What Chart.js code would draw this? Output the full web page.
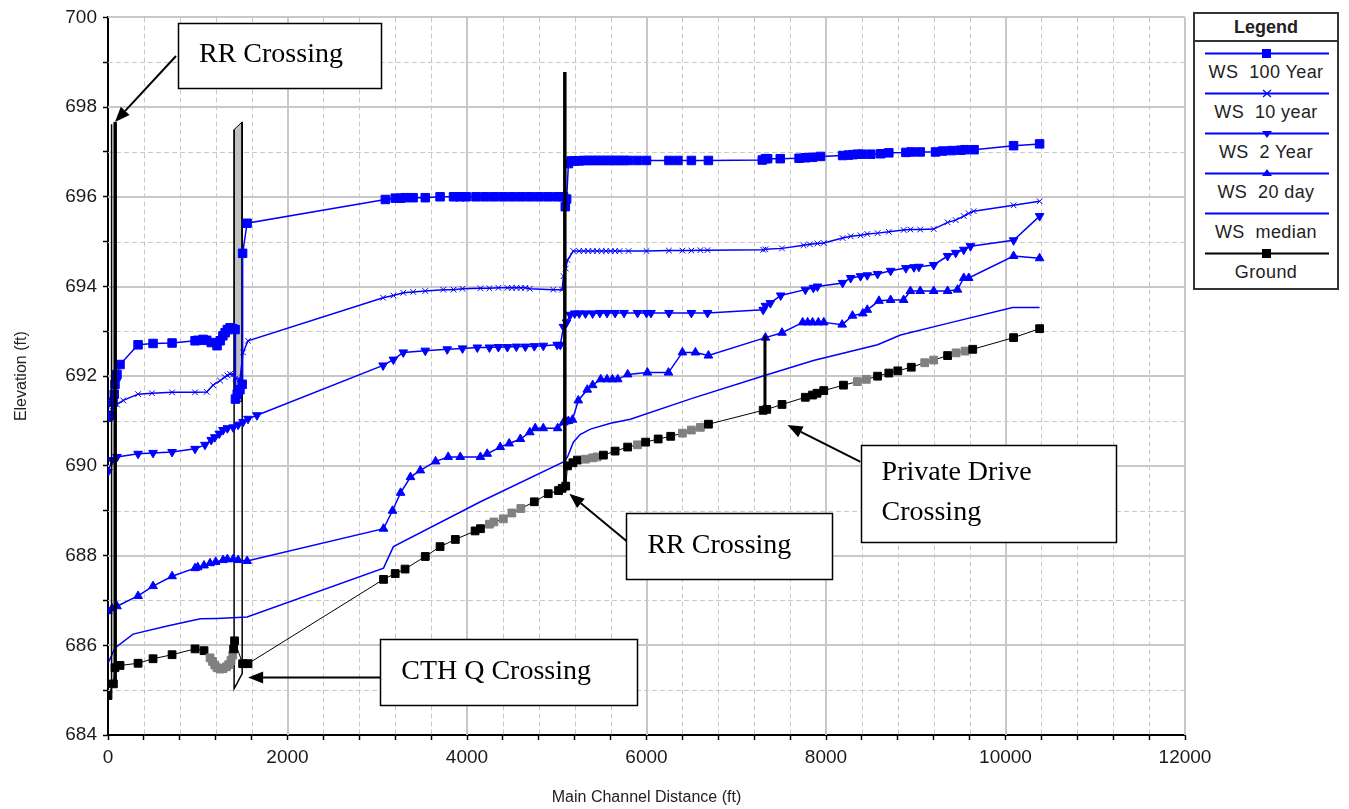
<!DOCTYPE html>
<html>
<head>
<meta charset="utf-8">
<title>Water surface profiles</title>
<script src="https://cdn.jsdelivr.net/npm/chart.js@4.4.1/dist/chart.umd.min.js"></script>
<style>
    html, body { margin: 0; padding: 0; background: #fff; }
    #wrap { position: relative; width: 1349px; height: 809px; }
    #legend {
        position: absolute; left: 1193px; top: 12px; width: 142px; height: 274px;
        border: 2px solid #333; background: #fff;
        font-family: 'Liberation Sans', Arial, sans-serif; color: #222;
    }
    #legend .lg-title {
        height: 26px; line-height: 26px; text-align: center; font-weight: bold; font-size: 18px;
        border-bottom: 2px solid #333;
    }
    #legend .lg-line { position: absolute; left: 10px; }
    #legend .lg-label {
        position: absolute; left: 0; width: 142px; text-align: center; font-size: 18px;
        letter-spacing: 0.4px; line-height: 20px; white-space: pre;
    }
</style>
</head>
<body>
<div id="wrap">
    <canvas id="profileChart"></canvas>
    <div id="legend"><div class="lg-title">Legend</div></div>
</div>
<script>
// Profile data: [main channel distance (ft), elevation (ft)]
const ws100 = [
    [0, 691.09], [45, 691.13], [56, 691.42], [70, 691.6], [78, 691.82], [90, 692.0], [100, 692.04],
    [134, 692.26], [335, 692.7], [502, 692.73], [714, 692.74], [970, 692.79], [1000, 692.8],
    [1060, 692.82], [1100, 692.8], [1150, 692.75], [1215, 692.68], [1250, 692.79], [1280, 692.9],
    [1305, 692.97], [1330, 693.04], [1360, 693.08], [1390, 693.06], [1416, 693.04], [1420, 691.49],
    [1440, 691.6], [1470, 691.7], [1495, 691.82], [1500, 694.74], [1550, 695.41], [3090, 695.94],
    [3200, 695.97], [3260, 695.97], [3310, 695.98], [3400, 695.98], [3535, 695.98], [3700, 696.0],
    [3850, 696.0], [3920, 696.0], [3990, 696.0], [4100, 696.0], [4200, 696.0], [4300, 696.0],
    [4400, 696.0], [4500, 696.0], [4600, 696.0], [4700, 696.0], [4800, 696.0], [4900, 696.0],
    [5000, 696.0], [5075, 696.0], [5095, 695.78], [5110, 695.95], [5130, 696.74], [5160, 696.8],
    [5200, 696.8], [5250, 696.8], [5300, 696.81], [5350, 696.81], [5400, 696.81], [5450, 696.81],
    [5500, 696.81], [5550, 696.81], [5600, 696.81], [5650, 696.81], [5700, 696.81], [5750, 696.81],
    [5800, 696.81], [5900, 696.81], [6000, 696.81], [6250, 696.81], [6350, 696.81], [6500, 696.81],
    [6690, 696.81], [7290, 696.82], [7325, 696.85], [7350, 696.85], [7490, 696.85], [7700, 696.86],
    [7770, 696.87], [7850, 696.88], [7940, 696.9], [8185, 696.92], [8250, 696.93], [8300, 696.94],
    [8350, 696.95], [8400, 696.95], [8500, 696.95], [8610, 696.96], [8700, 696.98], [8890, 696.99],
    [8950, 697.0], [9050, 697.0], [9220, 697.0], [9300, 697.02], [9400, 697.03], [9500, 697.04],
    [9550, 697.05], [9650, 697.05], [10090, 697.14], [10380, 697.18]
];

const ws10 = [
    [0, 691.04], [45, 691.24], [100, 691.37], [170, 691.46], [335, 691.6], [490, 691.62], [714, 691.64],
    [970, 691.64], [1100, 691.65], [1170, 691.8], [1250, 691.9], [1300, 691.98], [1330, 692.02],
    [1360, 692.05], [1395, 692.04], [1420, 691.95], [1470, 691.93], [1505, 692.53], [1560, 692.79],
    [3065, 693.75], [3180, 693.8], [3290, 693.86], [3400, 693.88], [3535, 693.9], [3735, 693.93],
    [3850, 693.93], [3950, 693.95], [4150, 693.96], [4250, 693.96], [4350, 693.97], [4450, 693.97],
    [4500, 693.97], [4550, 693.97], [4600, 693.97], [4650, 693.97], [4700, 693.95], [4960, 693.93],
    [5060, 693.93], [5075, 694.23], [5100, 694.4], [5120, 694.59], [5185, 694.79], [5250, 694.79],
    [5300, 694.79], [5350, 694.79], [5400, 694.79], [5450, 694.79], [5500, 694.79], [5550, 694.79],
    [5600, 694.79], [5650, 694.79], [5700, 694.79], [5800, 694.79], [6000, 694.79], [6250, 694.8],
    [6400, 694.8], [6500, 694.8], [6600, 694.81], [6680, 694.81], [7300, 694.82], [7325, 694.83],
    [7510, 694.85], [7750, 694.92], [7820, 694.94], [7905, 694.96], [7975, 694.97], [8185, 695.08],
    [8275, 695.12], [8385, 695.14], [8460, 695.17], [8575, 695.19], [8700, 695.22], [8865, 695.26],
    [8940, 695.27], [9050, 695.27], [9200, 695.28], [9355, 695.43], [9445, 695.48], [9535, 695.57],
    [9590, 695.63], [9645, 695.68], [10090, 695.81], [10380, 695.9]
];

const ws2 = [
    [0, 689.87], [45, 690.13], [100, 690.2], [335, 690.27], [502, 690.29], [714, 690.31], [970, 690.38],
    [1080, 690.47], [1150, 690.58], [1190, 690.64], [1240, 690.72], [1282, 690.8], [1330, 690.84],
    [1395, 690.86], [1450, 690.92], [1505, 690.98], [1560, 691.05], [1660, 691.13], [3065, 692.24],
    [3180, 692.37], [3290, 692.53], [3535, 692.57], [3780, 692.6], [3950, 692.62], [4115, 692.64],
    [4250, 692.64], [4350, 692.65], [4450, 692.65], [4550, 692.66], [4650, 692.66], [4750, 692.67],
    [4850, 692.68], [5005, 692.7], [5040, 692.7], [5075, 693.1], [5110, 693.2], [5150, 693.37],
    [5200, 693.4], [5250, 693.4], [5320, 693.4], [5400, 693.4], [5480, 693.41], [5560, 693.41],
    [5650, 693.41], [5750, 693.41], [5900, 693.41], [6000, 693.41], [6050, 693.41], [6250, 693.41],
    [6500, 693.41], [6680, 693.41], [7300, 693.48], [7325, 693.57], [7380, 693.63], [7495, 693.8],
    [7770, 693.93], [7860, 693.97], [7905, 694.0], [8185, 694.08], [8275, 694.19], [8385, 694.23],
    [8460, 694.25], [8575, 694.28], [8720, 694.35], [8890, 694.41], [8980, 694.43], [9035, 694.44],
    [9200, 694.48], [9355, 694.68], [9445, 694.75], [9535, 694.82], [9610, 694.9], [10090, 695.03],
    [10380, 695.57]
];

const ws20day = [
    [0, 686.76], [45, 686.82], [100, 686.87], [335, 687.1], [502, 687.32], [714, 687.54], [970, 687.72],
    [1000, 687.74], [1070, 687.78], [1137, 687.83], [1200, 687.86], [1282, 687.9], [1330, 687.92],
    [1395, 687.92], [1450, 687.9], [1550, 687.88], [3070, 688.6], [3170, 689.0], [3260, 689.4],
    [3370, 689.75], [3480, 689.9], [3650, 690.1], [3790, 690.2], [3925, 690.2], [4150, 690.2],
    [4225, 690.27], [4370, 690.42], [4470, 690.5], [4595, 690.6], [4700, 690.75], [4760, 690.84],
    [4850, 690.84], [5010, 690.84], [5075, 690.97], [5100, 690.99], [5130, 691.0], [5175, 691.03],
    [5240, 691.46], [5340, 691.7], [5400, 691.8], [5490, 691.93], [5560, 691.93], [5620, 691.93],
    [5680, 691.93], [5790, 692.04], [6010, 692.08], [6245, 692.08], [6400, 692.53], [6545, 692.53],
    [6690, 692.46], [7325, 692.86], [7510, 692.97], [7740, 693.2], [7795, 693.2], [7850, 693.2],
    [7915, 693.2], [7975, 693.2], [8180, 693.15], [8295, 693.35], [8410, 693.4], [8460, 693.48],
    [8590, 693.68], [8720, 693.7], [8865, 693.7], [8940, 693.9], [9050, 693.9], [9200, 693.9],
    [9355, 693.9], [9465, 693.93], [9535, 694.19], [9590, 694.19], [10090, 694.68], [10380, 694.63]
];

const wsMedian = [
    [0, 685.6], [78, 685.94], [280, 686.25], [660, 686.43], [1030, 686.59], [1215, 686.6],
    [1550, 686.63], [3070, 687.72], [3180, 688.2], [4150, 689.2], [5075, 690.09], [5120, 690.2],
    [5185, 690.53], [5260, 690.7], [5375, 690.82], [5600, 690.95], [5820, 691.04], [6500, 691.5],
    [7325, 692.02], [7860, 692.35], [8575, 692.7], [8830, 692.92], [9400, 693.2], [10080, 693.53],
    [10380, 693.53]
];

const ground = [
    [0, 684.88], [60, 685.14], [78, 685.5], [134, 685.55], [335, 685.6], [502, 685.7], [714, 685.79],
    [970, 685.92], [1070, 685.88], [1137, 685.72], [1165, 685.64], [1190, 685.56], [1215, 685.5],
    [1250, 685.47], [1282, 685.48], [1320, 685.52], [1345, 685.57], [1370, 685.66], [1390, 685.78],
    [1400, 685.92], [1410, 686.1], [1500, 685.59], [1560, 685.59], [3070, 687.47], [3200, 687.6],
    [3310, 687.7], [3535, 687.98], [3700, 688.2], [3870, 688.36], [4090, 688.55], [4150, 688.6],
    [4250, 688.7], [4300, 688.75], [4405, 688.82], [4500, 688.95], [4600, 689.05], [4750, 689.2],
    [4905, 689.38], [5020, 689.45], [5060, 689.5], [5100, 689.55], [5120, 690.0], [5180, 690.07],
    [5230, 690.13], [5320, 690.15], [5400, 690.18], [5450, 690.2], [5520, 690.24], [5650, 690.33],
    [5790, 690.42], [5900, 690.47], [5990, 690.53], [6130, 690.6], [6270, 690.66], [6400, 690.73],
    [6500, 690.8], [6600, 690.86], [6690, 690.93], [7300, 691.24], [7340, 691.26], [7510, 691.37],
    [7770, 691.53], [7850, 691.58], [7900, 691.62], [7975, 691.68], [8195, 691.8], [8350, 691.88],
    [8450, 691.93], [8575, 692.0], [8700, 692.07], [8800, 692.12], [8950, 692.2], [9100, 692.3],
    [9200, 692.36], [9355, 692.46], [9450, 692.52], [9550, 692.56], [9635, 692.6], [10090, 692.86],
    [10380, 693.06]
];

// Interpolated cross sections (drawn grey)
const interpolatedStations = [
    1137, 1165, 1190, 1215, 1250, 1282, 1320, 1345, 1370, 1390, 4250, 4300, 4405, 4500, 4600,
    5320, 5400, 5450, 5900, 6400, 6500, 6600, 8350, 8450, 9100, 9200, 9450, 9550
];

// Crossing structures
const rrBridgeUpA = [[40, 684.95], [40, 697.62]];
const rrBridgeUpB = [[80, 685.2], [80, 697.67]];
const cthqDeck = [[1405, 697.5], [1495, 697.67], [1495, 691.45], [1405, 691.4], [1405, 697.5]];
const cthqOutline = [[1405, 697.5], [1405, 685.03], [1495, 685.37], [1495, 697.67]];
const rrBridgeDown = [[5090, 689.55], [5090, 698.78]];
const privateDrive = [[7320, 691.26], [7320, 692.9]];

const xTicksMajor = [0, 2000, 4000, 6000, 8000, 10000, 12000];
const yTicksMajor = [684, 686, 688, 690, 692, 694, 696, 698, 700];

const legendLabels = ['WS  100 Year', 'WS  10 year', 'WS  2 Year', 'WS  20 day', 'WS  median', 'Ground'];

const BLUE = '#0000ff';
const SANS = "'Liberation Sans', Arial, sans-serif";
const SERIF = "'Liberation Serif', 'Times New Roman', serif";

const toXY = arr => arr.map(p => ({ x: p[0], y: p[1] }));

// Annotation callouts, placed in data units
const callouts = [
    { lines: ['RR Crossing'], box: [780, 699.87, 3044, 698.43], from: [758, 699.14], to: [78, 697.67] },
    { lines: ['CTH Q Crossing'], box: [3033, 686.14, 5898, 684.66], from: [3033, 685.28], to: [1561, 685.28] },
    { lines: ['RR Crossing'], box: [5776, 688.94, 8073, 687.47], from: [5787, 688.31], to: [5140, 689.38] },
    { lines: ['Private Drive', 'Crossing'], box: [8385, 690.47, 11228, 688.31], from: [8385, 690.09], to: [7571, 690.91] }
];

// Grid: solid major lines, dashed minor lines
const gridPlugin = {
    id: 'hecGrid',
    beforeDatasetsDraw(chart) {
        const { ctx, chartArea: a, scales: { x, y } } = chart;
        ctx.save();
        ctx.strokeStyle = '#c8c8c8';
        // minor
        ctx.lineWidth = 1;
        ctx.setLineDash([5, 3]);
        x.ticks.forEach(t => {
            if (xTicksMajor.includes(t.value)) return;
            const px = Math.round(x.getPixelForValue(t.value)) + 0.5;
            ctx.beginPath(); ctx.moveTo(px, a.top); ctx.lineTo(px, a.bottom); ctx.stroke();
        });
        y.ticks.forEach(t => {
            if (yTicksMajor.includes(t.value)) return;
            const py = Math.round(y.getPixelForValue(t.value)) + 0.5;
            ctx.beginPath(); ctx.moveTo(a.left, py); ctx.lineTo(a.right, py); ctx.stroke();
        });
        // major
        ctx.setLineDash([]);
        ctx.lineWidth = 2;
        xTicksMajor.forEach(v => {
            if (v === 0) return;
            const px = Math.round(x.getPixelForValue(v));
            ctx.beginPath(); ctx.moveTo(px, a.top); ctx.lineTo(px, a.bottom); ctx.stroke();
        });
        yTicksMajor.forEach(v => {
            if (v === 684) return;
            const py = Math.round(y.getPixelForValue(v));
            ctx.beginPath(); ctx.moveTo(a.left, py); ctx.lineTo(a.right, py); ctx.stroke();
        });
        ctx.restore();
    }
};

function drawArrow(ctx, x1, y1, x2, y2) {
    const ang = Math.atan2(y2 - y1, x2 - x1);
    const len = 15, half = 6;
    const bx = x2 - len * Math.cos(ang), by = y2 - len * Math.sin(ang);
    ctx.beginPath();
    ctx.moveTo(x1, y1);
    ctx.lineTo(bx, by);
    ctx.stroke();
    ctx.beginPath();
    ctx.moveTo(x2, y2);
    ctx.lineTo(bx + half * Math.sin(ang), by - half * Math.cos(ang));
    ctx.lineTo(bx - half * Math.sin(ang), by + half * Math.cos(ang));
    ctx.closePath();
    ctx.fill();
}

const calloutPlugin = {
    id: 'callouts',
    afterDatasetsDraw(chart) {
        const { ctx, scales: { x, y } } = chart;
        ctx.save();
        callouts.forEach(c => {
            const l = x.getPixelForValue(c.box[0]), t = y.getPixelForValue(c.box[1]);
            const r = x.getPixelForValue(c.box[2]), b = y.getPixelForValue(c.box[3]);
            ctx.lineWidth = 2;
            ctx.strokeStyle = '#000';
            ctx.fillStyle = '#000';
            drawArrow(ctx, x.getPixelForValue(c.from[0]), y.getPixelForValue(c.from[1]),
                x.getPixelForValue(c.to[0]), y.getPixelForValue(c.to[1]));
            ctx.fillStyle = '#fff';
            ctx.fillRect(l, t, r - l, b - t);
            ctx.lineWidth = 1.5;
            ctx.strokeRect(Math.round(l) + 0.5, Math.round(t) + 0.5, Math.round(r - l), Math.round(b - t));
            ctx.fillStyle = '#000';
            ctx.font = '28px ' + SERIF;
            ctx.textBaseline = 'middle';
            ctx.textAlign = 'left';
            const step = 40;
            const mid = (t + b) / 2 - 1;
            c.lines.forEach((txt, i) => {
                ctx.fillText(txt, l + 21, mid + (i - (c.lines.length - 1) / 2) * step);
            });
        });
        ctx.restore();
    }
};

function wsDataset(label, data, pointStyle, radius, extra) {
    return Object.assign({
        label: label,
        data: toXY(data),
        showLine: true,
        borderColor: BLUE,
        backgroundColor: BLUE,
        borderWidth: 1.5,
        pointStyle: pointStyle,
        pointRadius: radius,
        pointBorderWidth: 1,
        order: 2
    }, extra || {});
}

function structure(data, width, extra) {
    return Object.assign({
        label: '',
        data: toXY(data),
        showLine: true,
        borderColor: '#000',
        borderWidth: width,
        pointRadius: 0,
        order: 0
    }, extra || {});
}

const groundColors = ground.map(p => interpolatedStations.includes(p[0]) ? '#808080' : '#000');

new Chart(document.getElementById('profileChart'), {
    type: 'scatter',
    data: {
        datasets: [
            structure(cthqDeck, 1, { fill: 'shape', backgroundColor: '#c0c0c0', order: 5 }),
            structure(cthqOutline, 1.5, { order: 4 }),
            {
                label: 'Ground',
                data: toXY(ground),
                showLine: true,
                borderColor: '#000',
                borderWidth: 1,
                pointStyle: 'rect',
                pointRadius: 5.5,
                pointBackgroundColor: groundColors,
                pointBorderColor: groundColors,
                order: 3
            },
            wsDataset('WS median', wsMedian, 'circle', 0),
            wsDataset('WS 20 day', ws20day, 'triangle', 5),
            wsDataset('WS 2 Year', ws2, 'triangle', 5, { pointRotation: 180 }),
            wsDataset('WS 10 year', ws10, 'crossRot', 4),
            wsDataset('WS 100 Year', ws100, 'rect', 6),
            structure(rrBridgeUpA, 1.5),
            structure(rrBridgeUpB, 3.5),
            structure(rrBridgeDown, 3.5),
            structure(privateDrive, 3)
        ]
    },
    options: {
        responsive: true,
        maintainAspectRatio: false,
        animation: false,
        layout: { padding: { top: 13, right: 164, left: 0, bottom: 0 } },
        plugins: {
            legend: { display: false },
            tooltip: { enabled: false }
        },
        scales: {
            x: {
                type: 'linear',
                min: 0,
                max: 12000,
                afterFit: s => { s.height = 74; },
                border: { color: '#000', width: 2 },
                grid: { drawOnChartArea: false, tickLength: 5, tickColor: '#000', tickWidth: 1.5 },
                ticks: {
                    stepSize: 400,
                    autoSkip: false,
                    maxRotation: 0,
                    padding: 6,
                    color: '#1a1a1a',
                    font: { family: SANS, size: 19 },
                    callback: v => xTicksMajor.includes(v) ? String(v) : ''
                },
                title: {
                    display: true,
                    text: 'Main Channel Distance (ft)',
                    color: '#222',
                    font: { family: SANS, size: 16 },
                    padding: { top: 0, bottom: 2 }
                }
            },
            y: {
                type: 'linear',
                min: 684,
                max: 700,
                afterFit: s => { s.width = 108; },
                border: { color: '#000', width: 2 },
                grid: { drawOnChartArea: false, tickLength: 5, tickColor: '#000', tickWidth: 1.5 },
                ticks: {
                    stepSize: 1,
                    autoSkip: false,
                    padding: 6,
                    color: '#1a1a1a',
                    font: { family: SANS, size: 19 },
                    callback: v => yTicksMajor.includes(v) ? String(v) : ''
                },
                title: {
                    display: true,
                    text: 'Elevation (ft)',
                    color: '#222',
                    font: { family: SANS, size: 16 },
                    padding: { top: 12, bottom: 0 }
                }
            }
        }
    },
    plugins: [gridPlugin, calloutPlugin]
});

// HTML legend with line + marker samples
const legendMarks = [
    '<rect x="57" y="2" width="9" height="9" fill="' + BLUE + '"/>',
    '<path d="M58 3 L66 10 M66 3 L58 10" stroke="' + BLUE + '" stroke-width="1.2"/>',
    '<path d="M57 4 L67 4 L62 11 Z" fill="' + BLUE + '"/>',
    '<path d="M57 9 L67 9 L62 2 Z" fill="' + BLUE + '"/>',
    '',
    '<rect x="57" y="2" width="9" height="9" fill="#000"/>'
];
const legendEl = document.getElementById('legend');
legendLabels.forEach((label, i) => {
    const colour = i === 5 ? '#000' : BLUE;
    const line = document.createElement('div');
    line.className = 'lg-line';
    line.style.top = (32 + 40 * i) + 'px';
    line.innerHTML = '<svg width="124" height="13"><line x1="0" y1="6.5" x2="124" y2="6.5" stroke="' +
        colour + '" stroke-width="2"/>' + legendMarks[i] + '</svg>';
    legendEl.appendChild(line);
    const text = document.createElement('div');
    text.className = 'lg-label';
    text.style.top = (48 + 40 * i) + 'px';
    text.textContent = label;
    legendEl.appendChild(text);
});
</script>
</body>
</html>
